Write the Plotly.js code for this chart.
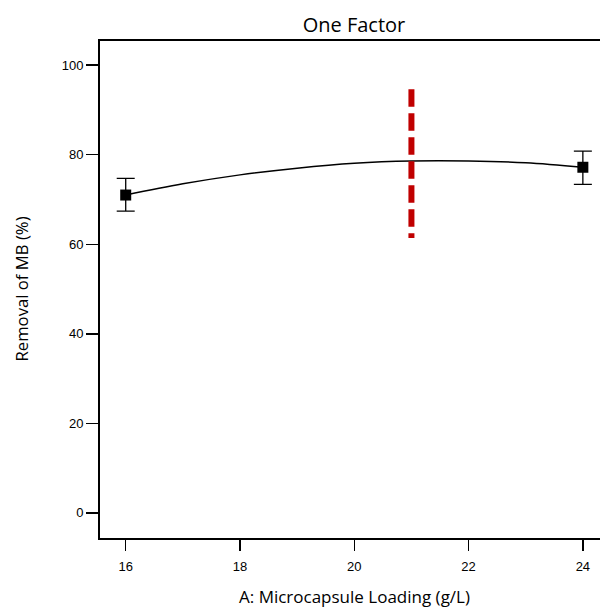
<!DOCTYPE html>
<html>
<head>
<meta charset="utf-8">
<script src="https://cdn.plot.ly/plotly-3.0.1.min.js"></script>
<style>html,body{margin:0;padding:0;background:#fff;}#chart{width:600px;height:610px;}</style>
</head>
<body>
<div id="chart"></div>
<script>
// Observed design points
const loadingX = [16, 24];
const removalY = [71.0, 77.2];
const errPlus = [3.7, 3.6];
const errMinus = [3.6, 3.8];

// Model prediction curve
const curveX = [16, 17, 18, 19, 20, 21, 22, 23, 24];
const curveY = [71.0, 73.5, 75.5, 77.0, 78.1, 78.6, 78.6, 78.2, 77.2];

// Red dashed reference line (drawn top to bottom)
const refX = [21, 21];
const refY = [94.6, 61.4];

const xTicks = [16, 18, 20, 22, 24];
const yTicks = [0, 20, 40, 60, 80, 100];

const traces = [
  {x: curveX, y: curveY, mode: 'lines', line: {color: '#000', width: 1.5, shape: 'spline'}, hoverinfo: 'skip'},
  {x: refX, y: refY, mode: 'lines', line: {color: '#c00000', width: 6, dash: '17.3px,6.7px'}, hoverinfo: 'skip'},
  {x: loadingX, y: removalY, mode: 'markers',
   marker: {symbol: 'square', size: 11, color: '#000'},
   error_y: {type: 'data', symmetric: false, array: errPlus, arrayminus: errMinus, color: '#000', thickness: 1.3, width: 9}}
];

const titleFont = 'Open Sans, Noto Sans, sans-serif';
const tickFont = {family: 'Liberation Sans, Arial, sans-serif', size: 13, color: '#000'};

const layout = {
  width: 600, height: 610,
  margin: {l: 100, r: 0, t: 41, b: 72},
  paper_bgcolor: '#fff', plot_bgcolor: '#fff',
  showlegend: false,
  title: {text: 'One Factor', x: 354/600, xref: 'container', xanchor: 'center', y: 1 - 25/610, yref: 'container', yanchor: 'middle',
          font: {family: titleFont, size: 20, color: '#000'}},
  xaxis: {range: [15.55, 24.3], tickvals: xTicks, ticktext: xTicks.map(String), ticks: 'outside', ticklen: 11, tickwidth: 1.5, tickcolor: '#000',
          ticklabelstandoff: 4,
          showline: true, linecolor: '#000', linewidth: 2, mirror: true, showgrid: false, zeroline: false, tickfont: tickFont},
  yaxis: {range: [-5.6, 105.4], tickvals: yTicks, ticktext: yTicks.map(String), ticks: 'outside', ticklen: 12, tickwidth: 1.5, tickcolor: '#000',
          showline: true, linecolor: '#000', linewidth: 2, mirror: false, showgrid: false, zeroline: false, tickfont: tickFont},
  annotations: [
    {text: 'A: Microcapsule Loading (g/L)', xref: 'paper', yref: 'paper', x: (354-100)/500, y: -(596-538)/497, xanchor: 'center', yanchor: 'middle', showarrow: false,
     font: {family: titleFont, size: 17, color: '#000'}},
    {text: 'Removal of MB (%)', xref: 'paper', yref: 'paper', x: -(100-21)/500, y: 0.5, xanchor: 'center', yanchor: 'middle', textangle: -90, showarrow: false,
     font: {family: titleFont, size: 16.7, color: '#000'}}
  ]
};

Plotly.newPlot('chart', traces, layout, {displayModeBar: false, staticPlot: true});
</script>
</body>
</html>
